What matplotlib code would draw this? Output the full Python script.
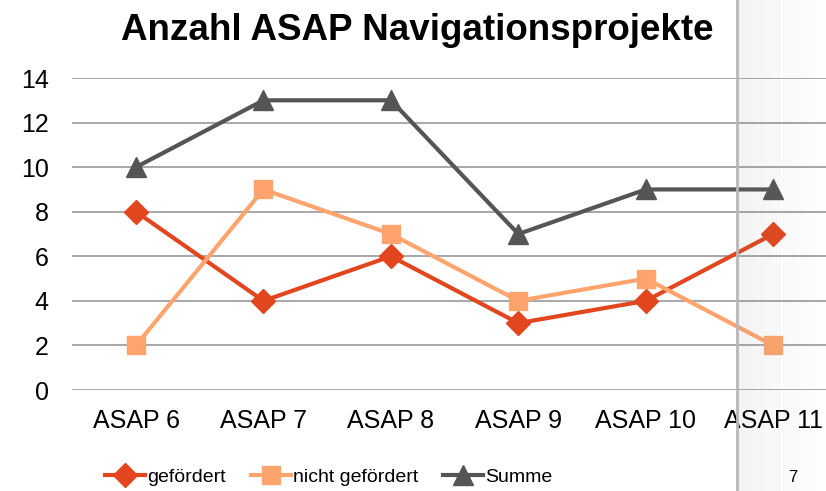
import numpy as np
import matplotlib
matplotlib.use("Agg")
import matplotlib.pyplot as plt
from matplotlib.lines import Line2D
from matplotlib.patches import Rectangle

plt.rcParams['font.family'] = ['Liberation Sans', 'DejaVu Sans']

categories = ['ASAP 6', 'ASAP 7', 'ASAP 8', 'ASAP 9', 'ASAP 10', 'ASAP 11']
gefoerdert = [8, 4, 6, 3, 4, 7]
nicht_gefoerdert = [2, 9, 7, 4, 5, 2]
summe = [10, 13, 13, 7, 9, 9]

c_gef = '#E2461E'
c_nicht = '#FFA46C'
c_sum = '#555555'

fig = plt.figure(figsize=(8.26, 4.91), dpi=100)
ax = fig.add_axes([0.0875, 0.2057, 0.9258, 0.6354])

x = np.arange(len(categories))
ax.plot(x, gefoerdert, color=c_gef, lw=3, marker='D', ms=12, label='gefördert', zorder=3)
ax.plot(x, nicht_gefoerdert, color=c_nicht, lw=3, marker='s', ms=13, label='nicht gefördert', zorder=3)
ax.plot(x, summe, color=c_sum, lw=3, marker='^', ms=14, label='Summe', zorder=3)

ax.set_xlim(-0.5, len(categories) - 0.5)
ax.set_ylim(0, 14)
ax.set_yticks(range(0, 15, 2))
ax.set_xticks(x)
ax.set_xticklabels(categories)
ax.tick_params(axis='both', length=0, labelsize=18)
ax.tick_params(axis='x', pad=14)
ax.tick_params(axis='y', pad=17)
ax.grid(axis='y', color='#A0A0A0', lw=1.3)
ax.set_axisbelow(True)
for s in ax.spines.values():
    s.set_visible(False)

fig.text(417 / 826, 1 - 30 / 491, 'Anzahl ASAP Navigationsprojekte', ha='center', va='center',
         fontsize=26.5, fontweight='bold')

handles = [
    Line2D([], [], color=c_gef, lw=3, marker='D', ms=12),
    Line2D([], [], color=c_nicht, lw=3, marker='s', ms=13),
    Line2D([], [], color=c_sum, lw=3, marker='^', ms=14),
]
fig.legend(handles, ['gefördert', 'nicht gefördert', 'Summe'], loc='center',
           bbox_to_anchor=(329 / 826, 1 - 477 / 491), ncol=3, frameon=False, fontsize=14,
           handlelength=2.05, handletextpad=0.1, columnspacing=1.3)

# slide edge on the right: faint shading plus a gray border line
x0 = 737 / 826
steps = 20
w = (1 - x0) / steps
for i in range(steps):
    fig.add_artist(Rectangle((x0 + i * w, 0), w, 1, transform=fig.transFigure,
                             facecolor='#808080', edgecolor='none',
                             alpha=0.09 * (1 - i / steps), zorder=5))
fig.add_artist(Line2D([x0, x0], [0, 1], transform=fig.transFigure, color='#B8B8B8', lw=2, zorder=6))
fig.text(793 / 826, 1 - 478 / 491, '7', ha='center', va='center', fontsize=12)

fig.savefig('out.png', dpi=100)
